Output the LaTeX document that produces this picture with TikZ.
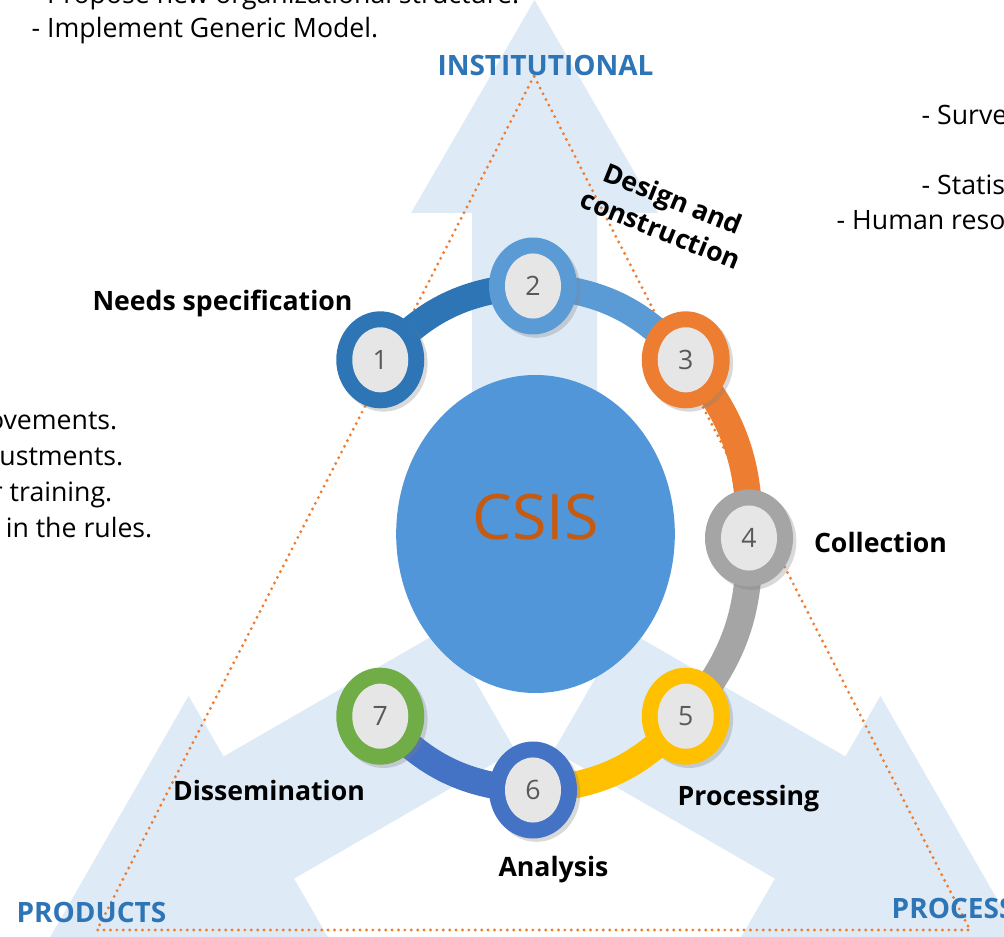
\documentclass[tikz,border=0pt]{standalone}
\usepackage{fontspec}
\setmainfont{Open Sans}
\usetikzlibrary{shapes,arrows}
\usetikzlibrary{positioning}
\usetikzlibrary{shadows}

\definecolor{arrowblue}{RGB}{222,235,247}
\definecolor{hubblue}{RGB}{80,150,216}
\definecolor{hubtext}{RGB}{197,90,17}
\definecolor{headblue}{RGB}{46,117,182}
\definecolor{stepone}{RGB}{46,117,182}
\definecolor{steptwo}{RGB}{91,155,213}
\definecolor{stepthree}{RGB}{237,125,49}
\definecolor{stepfour}{RGB}{165,165,165}
\definecolor{stepfive}{RGB}{255,192,0}
\definecolor{stepsix}{RGB}{68,114,196}
\definecolor{stepseven}{RGB}{112,173,71}
\definecolor{innergray}{RGB}{231,230,230}
\definecolor{numgray}{RGB}{89,89,89}

\pgfdeclarelayer{background}
\pgfdeclarelayer{ring}
\pgfsetlayers{background,ring,main}

\tikzstyle{bigarrow} = [fill=arrowblue, draw=none]
\tikzstyle{hub} = [ellipse, fill=hubblue, minimum width=209pt,
    minimum height=238.5pt, inner sep=0pt, text=hubtext,
    font=\fontsize{47}{47}\selectfont, text depth=26pt]
\tikzstyle{stage} = [ellipse, minimum width=66pt, minimum height=72.75pt,
    inner sep=0pt, text=numgray, font=\fontsize{20}{20}\selectfont,
    path picture={\fill[innergray] (path picture bounding box.center)
      ellipse [x radius=21pt, y radius=24.4pt];},
    drop shadow={shadow xshift=2.5pt, shadow yshift=-2.5pt, opacity=0.3}]
\tikzstyle{seg} = [line width=20pt]
\tikzstyle{phase} = [font=\bfseries\fontsize{20}{25}\selectfont, anchor=base]
\tikzstyle{axislabel} = [font=\bfseries\fontsize{21}{24}\selectfont,
    text=headblue, anchor=base]
\tikzstyle{note} = [font=\fontsize{20}{24}\selectfont, anchor=base west]
\tikzstyle{dotframe} = [draw=stepthree, line width=2.4pt, line cap=round,
    dash pattern=on 0pt off 4.8pt]

\begin{document}
\begin{tikzpicture}[x=0.75pt, y=0.75pt]
  \useasboundingbox (0,0) rectangle (1004,-937);

  % Background arrows, hub and dotted triangle
  \begin{pgfonlayer}{background}
    \fill [bigarrow] (472,-480) -- (472,-213) -- (411,-213) -- (534.5,0)
      -- (658,-213) -- (597,-213) -- (597,-480) -- cycle;
    \fill [bigarrow] (445,-628.7) -- (223.6,-756.5) -- (188.6,-695.9)
      -- (49.3,-938.6) -- (329.1,-939.3) -- (294.1,-878.6)
      -- (515.5,-750.8) -- cycle;
    \fill [bigarrow] (624,-628.7) -- (845.4,-756.5) -- (880.4,-695.9)
      -- (1019.7,-938.6) -- (739.9,-939.3) -- (774.9,-878.6)
      -- (553.5,-750.8) -- cycle;
    \draw [dotframe] (534,-76) -- (97,-930) -- (970,-930) -- cycle;
    \node [hub] (csis) at (535.5,-534) {CSIS};
  \end{pgfonlayer}

  % Place stage nodes
  \begin{scope}[shift={(533,-538)}]
    \node [stage, fill=stepone] (s1) at (135:216 and 252) {1};
    \node [stage, fill=steptwo] (s2) at (90:216 and 252) {2};
    \node [stage, fill=stepthree] (s3) at (45:216 and 252) {3};
    \node [stage, fill=stepfour] (s4) at (0:216 and 252) {4};
    \node [stage, fill=stepfive] (s5) at (-45:216 and 252) {5};
    \node [stage, fill=stepsix] (s6) at (-90:216 and 252) {6};
    \node [stage, fill=stepseven] (s7) at (-135:216 and 252) {7};
  \end{scope}

  % ring segments
  \begin{pgfonlayer}{ring}
    \draw [seg, stepone] (s1.center) to [bend left=23] (s2.center);
    \draw [seg, steptwo] (s2.center) to [bend left=23] (s3.center);
    \draw [seg, stepthree] (s3.center) to [bend left=21] (s4.center);
    \draw [seg, stepfour] (s4.center) to [bend left=21] (s5.center);
    \draw [seg, stepfive] (s5.center) to [bend left=23] (s6.center);
    \draw [seg, stepsix] (s6.center) to [bend left=23] (s7.center);
  \end{pgfonlayer}

  % stage labels
  \node [phase] (needs) at (222.5,-311) {Needs specification};
  \node [phase, anchor=center, align=center, rotate=-22] (design)
    at (667,-214) {Design and\\construction};
  \node [phase] (collect) at (880.5,-553) {Collection};
  \node [phase] (process) at (748.5,-806) {Processing};
  \node [phase] (analysis) at (553.5,-876) {Analysis};
  \node [phase] (dissem) at (269,-800) {Dissemination};

  % axis labels
  \node [axislabel] (inst) at (545.5,-76) {INSTITUTIONAL};
  \node [axislabel] (prod) at (91.5,-922) {PRODUCTS};
  \node [axislabel, anchor=base west] (proc) at (887,-918) {PROCESS};

  % notes
  \node [note] (noteA) at (27,-4) {- Propose new organizational structure.};
  \node [note] (noteB) at (27,-38) {- Implement Generic Model.};
  \node [note] (noteC) at (917,-125) {- Surve};
  \node [note] (noteD) at (917,-195) {- Statis};
  \node [note] (noteE) at (832,-230) {- Human reso};
  \node [note, anchor=base east] (noteF) at (122,-430) {ovements.};
  \node [note, anchor=base east] (noteG) at (128,-466) {justments.};
  \node [note, anchor=base east] (noteH) at (117,-502) {r training.};
  \node [note, anchor=base east] (noteI) at (157,-537.5) {in the rules.};

\end{tikzpicture}
\end{document}
